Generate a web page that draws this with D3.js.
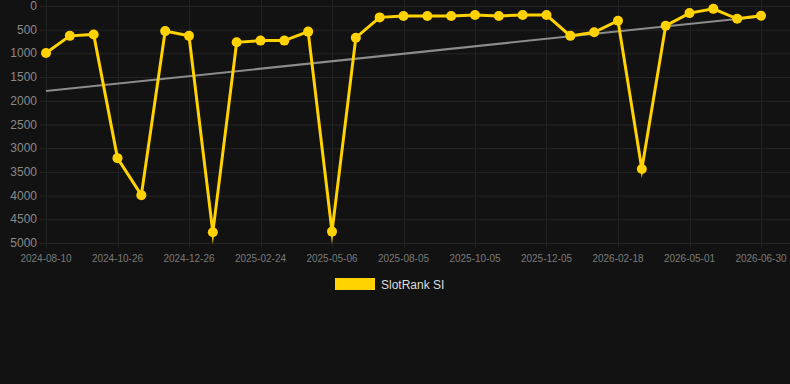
<!DOCTYPE html>
<html>
<head>
<meta charset="utf-8">
<script src="https://cdn.jsdelivr.net/npm/d3@7/dist/d3.min.js"></script>
<style>
  html, body { margin: 0; padding: 0; background: #121212; }
  svg { display: block; font-family: "Liberation Sans", Arial, sans-serif; }
</style>
</head>
<body>
<div id="chart"></div>
<script>
;(function () {

    // dates shown on the x axis (category axis, every third point labelled)
    var tickLabels = ['2024-08-10', '2024-10-26', '2024-12-26', '2025-02-24', '2025-05-06',
        '2025-08-05', '2025-10-05', '2025-12-05', '2026-02-18', '2026-05-01', '2026-06-30'];

    // SlotRank SI rank (lower is better)
    var rankValues = [990, 630, 600, 3210, 3990, 530, 630, 4775, 766, 730, 730,
        540, 4760, 668, 240, 210, 210, 210, 190, 210, 190, 190,
        630, 555, 310, 3440, 415, 150, 60, 270, 205];

    var yTicks = [0, 500, 1000, 1500, 2000, 2500, 3000, 3500, 4000, 4500, 5000];

    var W = 790, H = 384;
    var left = 46, right = 761, top = 6, bottom = 243;

    var svg = d3.select('#chart').append('svg')
        .attr('width', W)
        .attr('height', H);

    svg.append('rect')
        .attr('width', W)
        .attr('height', H)
        .attr('fill', '#121212');

    var idx = d3.range(rankValues.length);

    var x = d3.scaleLinear()
        .domain([0, rankValues.length - 1])
        .range([left, right]);

    var y = d3.scaleLinear()
        .domain([0, 5000])
        .range([top, bottom]);

    // horizontal grid
    svg.append('g')
        .selectAll('line')
        .data(yTicks)
        .enter()
        .append('line')
        .attr('x1', left - 6)
        .attr('x2', W)
        .attr('y1', function (d) { return y(d) + 0.5; })
        .attr('y2', function (d) { return y(d) + 0.5; })
        .attr('stroke', '#262626')
        .attr('stroke-width', 1);

    // vertical grid on labelled categories
    var labelled = idx.filter(function (i) { return i % 3 === 0; });
    svg.append('g')
        .selectAll('line')
        .data(labelled)
        .enter()
        .append('line')
        .attr('x1', function (i) { return Math.round(x(i)) + 0.5; })
        .attr('x2', function (i) { return Math.round(x(i)) + 0.5; })
        .attr('y1', 0)
        .attr('y2', bottom + 5)
        .attr('stroke', '#222')
        .attr('stroke-width', 1);

    // y axis labels
    svg.append('g')
        .selectAll('text')
        .data(yTicks)
        .enter()
        .append('text')
        .attr('x', 37)
        .attr('y', function (d) { return y(d) + 4; })
        .attr('text-anchor', 'end')
        .attr('fill', '#8a8a8a')
        .attr('font-size', 12)
        .text(function (d) { return d; });

    // x axis labels
    svg.append('g')
        .selectAll('text')
        .data(labelled)
        .enter()
        .append('text')
        .attr('x', function (i) { return x(i); })
        .attr('y', 262)
        .attr('text-anchor', 'middle')
        .attr('fill', '#7a7a7a')
        .attr('font-size', 10)
        .text(function (i, k) { return tickLabels[k]; });

    // linear trend
    var n = rankValues.length;
    var mx = d3.mean(idx), my = d3.mean(rankValues);
    var slope = d3.sum(idx, function (i) { return (i - mx) * (rankValues[i] - my); }) /
        d3.sum(idx, function (i) { return (i - mx) * (i - mx); });
    var icpt = my - slope * mx;

    svg.append('line')
        .attr('x1', x(0))
        .attr('y1', y(icpt))
        .attr('x2', x(n - 1))
        .attr('y2', y(icpt + slope * (n - 1)))
        .attr('stroke', '#8c8c8c')
        .attr('stroke-width', 2);

    // rank line
    var line = d3.line()
        .x(function (i) { return x(i); })
        .y(function (i) { return y(rankValues[i]); });

    svg.append('path')
        .datum(idx)
        .attr('d', line)
        .attr('fill', 'none')
        .attr('stroke', '#ffd200')
        .attr('stroke-width', 3)
        .attr('stroke-linejoin', 'miter')
        .attr('stroke-miterlimit', 10);

    svg.append('g')
        .selectAll('circle')
        .data(idx)
        .enter()
        .append('circle')
        .attr('cx', function (i) { return x(i); })
        .attr('cy', function (i) { return y(rankValues[i]); })
        .attr('r', 5)
        .attr('fill', '#ffd200');

    // legend
    svg.append('rect')
        .attr('x', 335)
        .attr('y', 278)
        .attr('width', 40)
        .attr('height', 12)
        .attr('fill', '#ffd200');

    svg.append('text')
        .attr('x', 381)
        .attr('y', 289)
        .attr('fill', '#dddddd')
        .attr('font-size', 12)
        .text('SlotRank SI');

})();
</script>
</body>
</html>
